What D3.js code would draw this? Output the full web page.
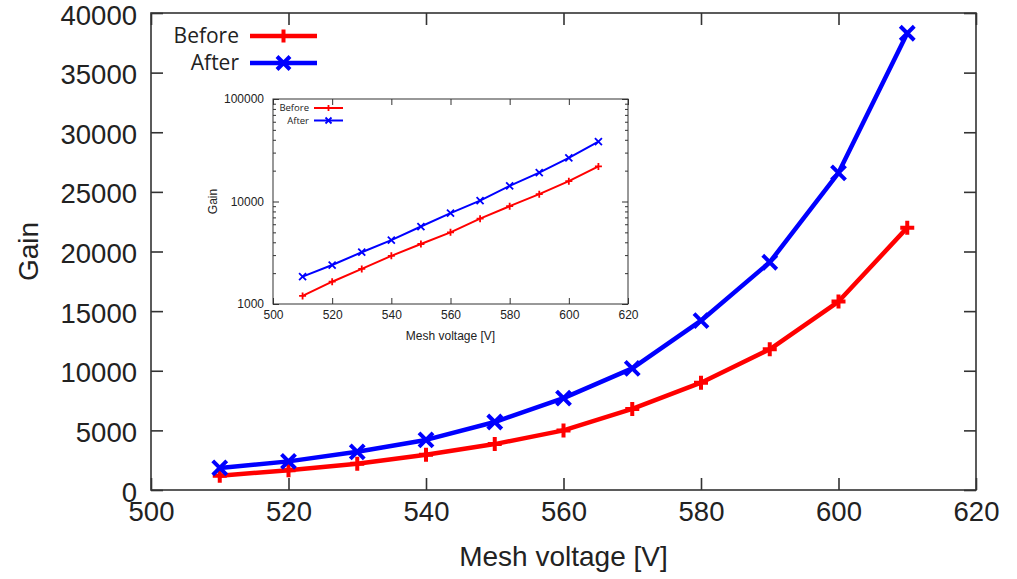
<!DOCTYPE html>
<html>
<head>
<meta charset="utf-8">
<script src="https://cdn.jsdelivr.net/npm/d3@7"></script>
<style>
  html, body { margin: 0; padding: 0; background: #fff; }
  svg { display: block; }
  .tick text { fill: #222; }
</style>
</head>
<body>
<svg id="chart" width="1017" height="579"></svg>
<script>
// Mesh voltage scan: gain before and after
const voltages   = [510, 520, 530, 540, 550, 560, 570, 580, 590, 600, 610];
const gainBefore = [1200, 1650, 2200, 2950, 3850, 5000, 6800, 9000, 11800, 15800, 22000];
const gainAfter  = [1850, 2400, 3200, 4200, 5700, 7700, 10200, 14200, 19100, 26600, 38300];

const seriesNames  = ["Before", "After"];
const xTicks       = [500, 520, 540, 560, 580, 600, 620];
const yTicks       = [0, 5000, 10000, 15000, 20000, 25000, 30000, 35000, 40000];
const insetYTicks  = [1000, 10000, 100000];

const colors  = { Before: "#ff0000", After: "#0000ff" };
const markers = { Before: "plus", After: "cross" };

const series = [
  { name: seriesNames[0], values: gainBefore },
  { name: seriesNames[1], values: gainAfter }
];

const svg = d3.select("#chart");
const axisColor = "#333";
const tickFont = "'Liberation Sans', Arial, sans-serif";
const legendFont = "'Open Sans', 'DejaVu Sans', sans-serif";

function markerPath(kind, s) {
  if (kind === "plus") return `M${-s},0H${s}M0,${-s}V${s}`;
  return `M${-s},${-s}L${s},${s}M${-s},${s}L${s},${-s}`;
}

// Draws a framed panel with mirrored inward ticks
function drawFrame(g, x, y, opts) {
  const [x0, x1] = x.range();
  const [y0, y1] = y.range(); // y0 bottom, y1 top

  const bottom = d3.axisBottom(x).tickValues(opts.xTicks)
    .tickSizeInner(-opts.tick).tickSizeOuter(0).tickPadding(opts.xPad);
  const top = d3.axisTop(x).tickValues(opts.xTicks)
    .tickSizeInner(-opts.tick).tickSizeOuter(0).tickFormat("");
  const left = d3.axisLeft(y).tickValues(opts.yTicks)
    .tickSizeInner(-opts.tick).tickSizeOuter(0).tickPadding(opts.yPad)
    .tickFormat(d3.format("d"));
  const right = d3.axisRight(y).tickValues(opts.yTicks)
    .tickSizeInner(-opts.tick).tickSizeOuter(0).tickFormat("");

  g.append("g").attr("transform", `translate(0,${y0})`).call(bottom);
  g.append("g").attr("transform", `translate(0,${y1})`).call(top);
  const leftG = g.append("g").attr("transform", `translate(${x0},0)`).call(left);
  g.append("g").attr("transform", `translate(${x1},0)`).call(right);
  leftG.selectAll(".tick text").attr("dy", opts.yDy);

  if (opts.yMinor) {
    g.append("g").attr("transform", `translate(${x0},0)`)
      .call(d3.axisLeft(y).tickValues(opts.yMinor).tickSizeInner(-opts.minorTick).tickSizeOuter(0).tickFormat(""));
    g.append("g").attr("transform", `translate(${x1},0)`)
      .call(d3.axisRight(y).tickValues(opts.yMinor).tickSizeInner(-opts.minorTick).tickSizeOuter(0).tickFormat(""));
  }

  g.selectAll(".domain").remove();
  g.selectAll(".tick line").attr("stroke", axisColor).attr("stroke-width", opts.stroke);
  g.selectAll(".tick text")
    .attr("font-family", tickFont)
    .attr("font-size", opts.fontSize)
    .attr("fill", "#222");

  g.append("rect")
    .attr("x", x0).attr("y", y1)
    .attr("width", x1 - x0).attr("height", y0 - y1)
    .attr("fill", "none").attr("stroke", axisColor).attr("stroke-width", opts.stroke);
}

function drawSeries(g, x, y, style) {
  const line = d3.line()
    .x((d, i) => x(voltages[i]))
    .y(d => y(d));
  series.forEach(s => {
    g.append("path")
      .datum(s.values)
      .attr("d", line)
      .attr("fill", "none")
      .attr("stroke", colors[s.name])
      .attr("stroke-width", style.lineWidth)
      .attr("stroke-linejoin", "round");
    g.selectAll(null)
      .data(s.values)
      .join("path")
      .attr("transform", (d, i) => `translate(${x(voltages[i])},${y(d)})`)
      .attr("d", markerPath(markers[s.name], style.markerSize))
      .attr("fill", "none")
      .attr("stroke", colors[s.name])
      .attr("stroke-width", style.markerWidth);
  });
}

function drawLegend(g, style) {
  series.forEach((s, i) => {
    const yy = style.y + i * style.dy;
    g.append("text")
      .attr("x", style.textX).attr("y", yy)
      .attr("dy", "0.35em")
      .attr("text-anchor", "end")
      .attr("font-family", legendFont)
      .attr("font-size", style.fontSize)
      .attr("fill", "#222")
      .text(s.name);
    g.append("line")
      .attr("x1", style.lineX0).attr("x2", style.lineX1)
      .attr("y1", yy).attr("y2", yy)
      .attr("stroke", colors[s.name]).attr("stroke-width", style.lineWidth);
    g.append("path")
      .attr("transform", `translate(${(style.lineX0 + style.lineX1) / 2},${yy})`)
      .attr("d", markerPath(markers[s.name], style.markerSize))
      .attr("fill", "none")
      .attr("stroke", colors[s.name])
      .attr("stroke-width", style.markerWidth);
  });
}

// ---------- Main panel (linear gain) ----------
const x = d3.scaleLinear().domain([500, 620]).range([151, 976]);
const y = d3.scaleLinear().domain([0, 40000]).range([490, 13]);

const main = svg.append("g");
drawFrame(main, x, y, {
  xTicks, yTicks, tick: 12, xPad: 11, yPad: 14, yDy: "0.40em", fontSize: 27.5, stroke: 1.6
});
drawSeries(main, x, y, { lineWidth: 4.5, markerSize: 7, markerWidth: 4 });

main.append("text")
  .attr("x", (x.range()[0] + x.range()[1]) / 2)
  .attr("y", 566)
  .attr("text-anchor", "middle")
  .attr("font-family", tickFont)
  .attr("font-size", 28)
  .attr("fill", "#222")
  .text("Mesh voltage [V]");

main.append("text")
  .attr("transform", `translate(38,${(y.range()[0] + y.range()[1]) / 2}) rotate(-90)`)
  .attr("text-anchor", "middle")
  .attr("font-family", tickFont)
  .attr("font-size", 28)
  .attr("fill", "#222")
  .text("Gain");

drawLegend(main, {
  y: 36, dy: 27, textX: 239, lineX0: 250, lineX1: 317,
  fontSize: 21, lineWidth: 4.5, markerSize: 6.5, markerWidth: 4
});

// ---------- Inset panel (log gain) ----------
const xi = d3.scaleLinear().domain([500, 620]).range([273, 628]);
const yi = d3.scaleLog().domain([1000, 100000]).range([304, 99]);

const minor = [];
insetYTicks.slice(0, -1).forEach(m => {
  for (let k = 2; k <= 9; k++) minor.push(m * k);
});

const inset = svg.append("g");
inset.append("rect")
  .attr("x", 273).attr("y", 99).attr("width", 355).attr("height", 205)
  .attr("fill", "#fff");
drawFrame(inset, xi, yi, {
  xTicks, yTicks: insetYTicks, yMinor: minor,
  tick: 6, minorTick: 3, xPad: 6, yPad: 9, yDy: "0.32em", fontSize: 12, stroke: 1
});
drawSeries(inset, xi, yi, { lineWidth: 2, markerSize: 3.5, markerWidth: 1.8 });

inset.append("text")
  .attr("x", (xi.range()[0] + xi.range()[1]) / 2)
  .attr("y", 340)
  .attr("text-anchor", "middle")
  .attr("font-family", tickFont)
  .attr("font-size", 12)
  .attr("fill", "#222")
  .text("Mesh voltage [V]");

inset.append("text")
  .attr("transform", `translate(217,${(yi.range()[0] + yi.range()[1]) / 2}) rotate(-90)`)
  .attr("text-anchor", "middle")
  .attr("font-family", tickFont)
  .attr("font-size", 12)
  .attr("fill", "#222")
  .text("Gain");

drawLegend(inset, {
  y: 108, dy: 12.5, textX: 309, lineX0: 314, lineX1: 343,
  fontSize: 9.5, lineWidth: 2, markerSize: 3, markerWidth: 1.8
});
</script>
</body>
</html>
